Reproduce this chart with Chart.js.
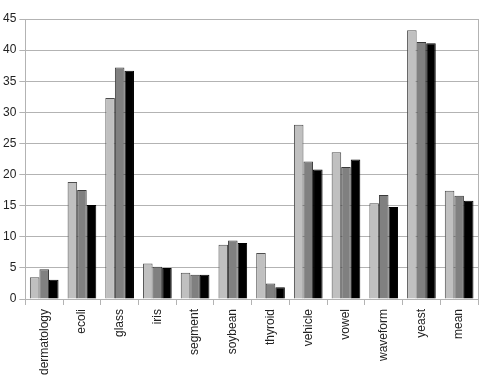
<!DOCTYPE html>
<html>
<head>
<meta charset="utf-8">
<script src="https://cdn.jsdelivr.net/npm/chart.js@4/dist/chart.umd.min.js"></script>
<style>
  html, body { margin: 0; padding: 0; background: #fff; }
  #wrap { width: 484px; height: 377px; }
</style>
</head>
<body>
<div id="wrap"><canvas id="c" width="484" height="377"></canvas></div>
<script>
const categories = ['dermatology', 'ecoli', 'glass', 'iris', 'segment', 'soybean', 'thyroid', 'vehicle', 'vowel', 'waveform', 'yeast', 'mean'];
const seriesA = [3.5, 18.8, 32.3, 5.7, 4.2, 8.7, 7.4, 28.0, 23.6, 15.4, 43.2, 17.4];
const seriesB = [4.8, 17.5, 37.2, 5.2, 3.9, 9.4, 2.5, 22.1, 21.2, 16.7, 41.3, 16.6];
const seriesC = [3.1, 15.1, 36.7, 5.0, 3.9, 9.0, 1.9, 20.8, 22.4, 14.8, 41.1, 15.8];
const yTicks = { min: 0, max: 45, step: 5 };

// right edge of the plot frame
const frame = {
  id: 'frame',
  afterDraw(chart) {
    const a = chart.chartArea, ctx = chart.ctx;
    ctx.save();
    ctx.strokeStyle = '#b3b3b3';
    ctx.lineWidth = 1;
    ctx.beginPath();
    ctx.moveTo(Math.round(a.right) + 0.5, a.top);
    ctx.lineTo(Math.round(a.right) + 0.5, a.bottom);
    ctx.stroke();
    ctx.restore();
  }
};

Chart.defaults.font.family = '"Liberation Sans", Arial, sans-serif';
Chart.defaults.font.size = 12;
Chart.defaults.color = '#222';

new Chart(document.getElementById('c'), {
  type: 'bar',
  data: {
    labels: categories,
    datasets: [
      { data: seriesA, backgroundColor: '#c0c0c0', borderColor: '#4d4d4d', borderWidth: 1 },
      { data: seriesB, backgroundColor: '#808080', borderColor: '#3a3a3a', borderWidth: 1 },
      { data: seriesC, backgroundColor: '#000000', borderColor: '#000000', borderWidth: 1 }
    ]
  },
  options: {
    responsive: false,
    animation: false,
    layout: { padding: { top: 19, right: 6, left: 0, bottom: 0 } },
    datasets: { bar: { categoryPercentage: 0.76, barPercentage: 1 } },
    plugins: { legend: { display: false }, tooltip: { enabled: false } },
    scales: {
      x: {
        afterFit(scale) { scale.height = 78; },
        grid: { display: true, drawOnChartArea: false, offset: true, tickLength: 6, color: '#b3b3b3' },
        border: { color: '#b3b3b3' },
        ticks: { minRotation: 90, maxRotation: 90, autoSkip: false, padding: 4 }
      },
      y: {
        min: yTicks.min, max: yTicks.max,
        grid: { color: '#b3b3b3', tickLength: 6 },
        border: { color: '#b3b3b3' },
        ticks: { stepSize: yTicks.step, padding: 3 }
      }
    }
  },
  plugins: [frame]
});
</script>
</body>
</html>
